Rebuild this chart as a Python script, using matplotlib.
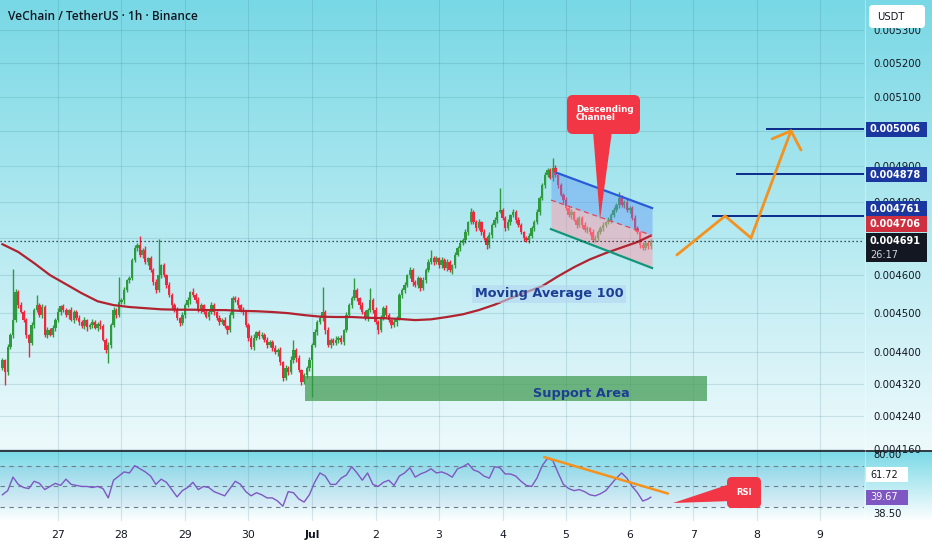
import numpy as np
import matplotlib
matplotlib.use("Agg")
import matplotlib.pyplot as plt
from matplotlib.patches import FancyBboxPatch, Polygon, Rectangle
from matplotlib.ticker import NullLocator

# ---- data (prices in micro-USDT, 1h candles starting Jun 26 03:00) ----
open0 = 4360
closes = [
    4379, 4349, 4413, 4444, 4482, 4555, 4521, 4503, 4482, 4444,
    4423, 4469, 4508, 4521, 4495, 4516, 4444, 4456, 4444, 4461,
    4482, 4503, 4518, 4508, 4495, 4508, 4482, 4503, 4487, 4477,
    4466, 4482, 4464, 4469, 4477, 4461, 4472, 4466, 4431, 4405,
    4418, 4469, 4508, 4495, 4529, 4534, 4560, 4587, 4592, 4640,
    4672, 4680, 4654, 4667, 4635, 4645, 4613, 4581, 4560, 4600,
    4626, 4600, 4573, 4547, 4521, 4508, 4487, 4474, 4495, 4521,
    4534, 4555, 4547, 4534, 4508, 4521, 4503, 4490, 4503, 4521,
    4503, 4487, 4477, 4482, 4466, 4456, 4495, 4539, 4534, 4521,
    4508, 4503, 4469, 4436, 4413, 4436, 4451, 4441, 4444, 4431,
    4418, 4426, 4410, 4400, 4405, 4374, 4334, 4359, 4349, 4379,
    4405, 4384, 4354, 4324, 4341, 4359, 4379, 4418, 4451, 4477,
    4487, 4503, 4456, 4418, 4431, 4423, 4431, 4436, 4426, 4456,
    4495, 4521, 4539, 4560, 4539, 4521, 4503, 4487, 4508, 4534,
    4508, 4477, 4456, 4487, 4513, 4495, 4482, 4469, 4477, 4487,
    4547, 4560, 4573, 4600, 4613, 4581, 4573, 4592, 4565, 4587,
    4613, 4635, 4645, 4635, 4645, 4626, 4640, 4618, 4635, 4613,
    4626, 4654, 4672, 4686, 4694, 4716, 4743, 4771, 4743, 4727,
    4743, 4716, 4699, 4680, 4707, 4735, 4749, 4771, 4776, 4754,
    4727, 4743, 4762, 4771, 4749, 4735, 4716, 4699, 4694, 4705,
    4727, 4743, 4771, 4810, 4846, 4874, 4888, 4866, 4894, 4874,
    4846, 4818, 4804, 4782, 4762, 4771, 4749, 4735, 4754, 4735,
    4721, 4727, 4716, 4694, 4699, 4716, 4727, 4735, 4743, 4749,
    4762, 4776, 4790, 4810, 4790, 4799, 4776, 4782, 4754, 4727,
    4716, 4680, 4672, 4686, 4678, 4691,
]
wick_up = [
    6, 4, 8, 5, 134, 9, 5, 7, 4, 6,
    3, 8, 6, 26, 5, 9, 4, 7, 5, 8,
    6, 10, 4, 7, 5, 3, 8, 6, 4, 9,
    5, 7, 3, 6, 8, 4, 5, 9, 6, 4,
    7, 5, 8, 6, 66, 5, 9, 4, 7, 6,
    8, 5, 25, 6, 10, 4, 7, 5, 9, 97,
    5, 7, 4, 8, 6, 5, 9, 3, 7, 6,
    8, 4, 10, 5, 7, 6, 4, 9, 5, 8,
    6, 3, 7, 5, 9, 4, 8, 6, 5, 7,
    4, 8, 6, 5, 7, 9, 3, 6, 8, 5,
    7, 4, 6, 9, 5, 8, 4, 7, 6, 10,
    26, 5, 8, 4, 7, 6, 9, 5, 8, 6,
    7, 65, 5, 8, 4, 6, 9, 5, 7, 4,
    8, 6, 5, 32, 7, 4, 9, 6, 5, 31,
    6, 8, 4, 7, 5, 9, 6, 4, 8, 5,
    7, 6, 9, 4, 8, 5, 7, 6, 4, 9,
    5, 8, 22, 6, 7, 4, 9, 5, 8, 6,
    4, 7, 5, 9, 6, 8, 4, 11, 6, 5,
    8, 4, 7, 6, 9, 5, 7, 4, 62, 6,
    5, 9, 4, 7, 6, 8, 5, 4, 7, 9,
    6, 5, 8, 4, 7, 9, 6, 5, 29, 8,
    4, 7, 6, 9, 5, 8, 4, 7, 6, 5,
    8, 6, 4, 7, 9, 5, 6, 8, 4, 7,
    5, 9, 6, 17, 7, 4, 8, 6, 5, 9,
    6, 4, 8, 5, 7, 6,
]
wick_lo = [
    5, 33, 6, 4, 8, 5, 7, 3, 6, 9,
    36, 5, 7, 4, 6, 8, 5, 9, 4, 6,
    7, 4, 8, 5, 6, 9, 3, 7, 5, 8,
    4, 6, 9, 5, 7, 3, 8, 6, 4, 7,
    33, 8, 5, 7, 4, 6, 9, 5, 8, 6,
    4, 7, 6, 9, 5, 8, 4, 7, 6, 5,
    8, 5, 7, 4, 9, 6, 5, 8, 4, 7,
    6, 9, 4, 7, 5, 8, 6, 3, 9, 5,
    7, 4, 8, 6, 5, 9, 4, 7, 6, 8,
    5, 7, 4, 9, 6, 8, 5, 7, 4, 6,
    8, 5, 7, 4, 9, 6, 8, 5, 7, 4,
    6, 9, 5, 8, 4, 7, 6, 92, 5, 8,
    4, 7, 9, 5, 8, 6, 4, 7, 5, 9,
    6, 5, 8, 4, 7, 9, 5, 6, 8, 4,
    7, 5, 9, 6, 4, 8, 5, 7, 6, 9,
    4, 8, 6, 5, 7, 9, 4, 6, 8, 5,
    7, 4, 6, 9, 5, 8, 6, 4, 7, 5,
    9, 6, 4, 8, 5, 7, 9, 4, 6, 8,
    5, 7, 4, 9, 6, 8, 5, 7, 4, 6,
    8, 5, 7, 4, 9, 6, 5, 8, 4, 7,
    6, 9, 4, 7, 5, 8, 6, 4, 9, 5,
    7, 4, 8, 6, 5, 9, 4, 7, 6, 8,
    5, 7, 9, 4, 6, 8, 5, 7, 4, 6,
    8, 6, 4, 7, 5, 9, 6, 8, 5, 7,
    4, 8, 6, 5, 9, 7,
]

# moving average 100 (read every 6 candles, plus the last one)
ma_idx = list(range(0, 241, 6)) + [245]
ma_vals = [4683, 4662, 4632, 4600, 4576, 4552, 4531, 4521, 4516, 4513,
           4510, 4509, 4509, 4508, 4508, 4506, 4505, 4503, 4500, 4495,
           4491, 4490, 4490, 4488, 4487, 4485, 4482, 4484, 4490, 4497,
           4508, 4522, 4539, 4555, 4571, 4597, 4621, 4642, 4659, 4674,
           4689, 4706]

# RSI, read every 2 candles, plus the last candle
rsi_vals = [
    42, 46, 59, 52, 49, 48, 55, 53, 47, 50, 53, 51, 57, 52, 51, 50, 50, 49,
    50, 48, 39, 56, 60, 64, 63, 70, 67, 64, 60, 52, 57, 54, 47, 40, 46, 49,
    54, 47, 50, 49, 45, 43, 41, 48, 55, 52, 45, 41, 44, 42, 39, 39, 36, 31,
    45, 44, 38, 35, 42, 54, 63, 60, 52, 52, 58, 61, 69, 63, 56, 63, 52, 50,
    54, 56, 51, 60, 63, 68, 59, 62, 64, 67, 63, 64, 62, 59, 67, 69, 72, 66,
    64, 60, 58, 69, 68, 62, 62, 60, 55, 51, 50, 58, 70, 77, 75, 63, 52, 48,
    46, 47, 45, 42, 41, 43, 46, 52, 58, 63, 58, 50, 44, 36, 38, 39.67,
]

day_labels = ['27', '28', '29', '30', 'Jul', '2', '3', '4', '5', '6', '7', '8', '9']
price_ticks = [0.00416, 0.00424, 0.00432, 0.0044, 0.0045, 0.0046, 0.0047,
               0.0048, 0.0049, 0.0050, 0.0051, 0.0052, 0.0053]

# drawings (candle index, micro-USDT)
channel_x = [207.3, 245.5]
channel_top = [4886, 4782]
channel_mid = [4804, 4707]
channel_bot = [4724, 4619]
targets = [(5006, 289.0), (4878, 277.6), (4761, 268.6)]
path_x = [254.9, 273.1, 282.9, 298.0]
path_p = [4654, 4760, 4700, 5000]
head_x = [290.9, 298.0, 301.8]
head_p = [4977, 5000, 4945]
support = (114.4, 266.3, 4277, 4339)
rsi_trend_x = [204.7, 251.5]
rsi_trend_y = [78.3, 43.2]
last_price = 4691

# ---- figure ----
W, H = 932, 550
fig = plt.figure(figsize=(W / 100, H / 100), dpi=100)


def fx(px):
    return px / W


def fy(py):
    return 1 - py / H


GREEN = '#2f9a3e'
RED = '#f0283d'
DARK = '#131722'
NAVY = '#19379f'
GRID = '#2a6f7a'
GRID_A = 0.16

# background gradient
ax_bg = fig.add_axes([0, 0, 1, 1], zorder=0)
img = np.ones((H, 1, 3))
c1 = np.array([120, 216, 229]) / 255
c2 = np.array([238, 250, 252]) / 255
t = np.linspace(0, 1, 452)[:, None]
img[:452, 0, :] = c1 + (c2 - c1) * t
r1 = np.array([124, 218, 231]) / 255
r2 = np.array([255, 255, 255]) / 255
t2 = np.linspace(0, 1, 70)[:, None]
img[452:522, 0, :] = r1 + (r2 - r1) * t2
ax_bg.imshow(img, extent=[0, W, H, 0], aspect='auto', interpolation='bilinear')
ax_bg.set_xlim(0, W)
ax_bg.set_ylim(H, 0)
ax_bg.axis('off')

xmin, xmax = -0.907, 325.6
day_idx = [21 + 24 * k for k in range(len(day_labels))]

# price pane
ax = fig.add_axes([0, fy(451), fx(864), 451 / H], zorder=2)
ax.set_facecolor('none')
ax.set_yscale('log')
ax.set_ylim(0.0041554, 0.0053929)
ax.set_xlim(xmin, xmax)
for s in ax.spines.values():
    s.set_visible(False)
ax.set_xticks(day_idx)
ax.tick_params(axis='x', length=0, labelbottom=False)
ax.yaxis.tick_right()
ax.set_yticks(price_ticks)
ax.yaxis.set_minor_locator(NullLocator())
ax.set_yticklabels(['%.6f' % p for p in price_ticks])
ax.tick_params(axis='y', length=0, pad=6.5, labelsize=7.3, labelcolor=DARK)
ax.grid(True, color=GRID, alpha=GRID_A, lw=0.8)

c = np.array(closes, dtype=float)
o = np.r_[open0, c[:-1]]
hi = np.maximum(o, c) + np.array(wick_up)
lo = np.minimum(o, c) - np.array(wick_lo)
idx = np.arange(len(c))
cols = np.where(c >= o, GREEN, RED)
ax.vlines(idx, lo * 1e-6, hi * 1e-6, colors=cols, lw=1.0, zorder=3)
body = np.maximum(np.abs(c - o), 2.0)
ax.bar(idx, body * 1e-6, bottom=np.minimum(o, c) * 1e-6, width=0.9,
       color=cols, zorder=3, linewidth=0)

# support area
ax.fill_between([support[0], support[1]], support[2] * 1e-6, support[3] * 1e-6,
                color='#3f9a4f', alpha=0.72, lw=0, zorder=2)

# moving average
ax.plot(ma_idx, np.array(ma_vals) * 1e-6, color='#b0232f', lw=1.6, zorder=5)

# descending channel
cx = np.array(channel_x)
ax.fill_between(cx, np.array(channel_mid) * 1e-6, np.array(channel_top) * 1e-6,
                color='#5e95f5', alpha=0.42, lw=0, zorder=4)
ax.fill_between(cx, np.array(channel_bot) * 1e-6, np.array(channel_mid) * 1e-6,
                color='#ff9aab', alpha=0.5, lw=0, zorder=4)
ax.plot([209.6, cx[1]], [4880e-6, channel_top[1] * 1e-6], color='#2a5bd7', lw=1.6, zorder=6)
ax.plot(cx, np.array(channel_bot) * 1e-6, color='#12977a', lw=1.6, zorder=6)
ax.plot(cx, np.array(channel_mid) * 1e-6, color='#e0475a', lw=0.9, dashes=(4, 3), zorder=6)

# target lines and projected path
for p, x0 in targets:
    ax.plot([x0, xmax], [p * 1e-6, p * 1e-6], color='#0b2b8c', lw=1.4, zorder=6)
ax.axhline(last_price * 1e-6, color=DARK, lw=0.9, ls=(0, (1, 2.2)), zorder=6)
ax.plot(path_x, np.array(path_p) * 1e-6, color='#f5921e', lw=2.0, zorder=7,
        solid_capstyle='round', solid_joinstyle='miter')
ax.plot(head_x, np.array(head_p) * 1e-6, color='#f5921e', lw=2.0, zorder=7,
        solid_capstyle='round')

# RSI pane
ax_r = fig.add_axes([0, fy(521), fx(864), 70 / H], zorder=2)
ax_r.set_facecolor('none')
ax_r.set_xlim(xmin, xmax)
ax_r.set_ylim(16.8, 84.1)
for s in ax_r.spines.values():
    s.set_visible(False)
ax_r.set_yticks([])
ax_r.set_xticks(day_idx)
ax_r.set_xticklabels(day_labels)
ax_r.tick_params(axis='x', length=0, pad=6.5, labelsize=7.8, labelcolor=DARK)
ax_r.get_xticklabels()[4].set_fontweight('bold')
ax_r.grid(True, axis='x', color=GRID, alpha=GRID_A, lw=0.8)
ax_r.axhspan(30, 70, color='#7e57c2', alpha=0.05, lw=0)
for lvl in (70, 50, 30):
    ax_r.axhline(lvl, color='#6f7f8e', lw=0.8, dashes=(4, 4))
rsi_idx = list(range(0, len(closes), 2)) + [len(closes) - 1]
ax_r.plot(rsi_idx, rsi_vals, color='#7e57c2', lw=1.0)
ax_r.plot(rsi_trend_x, rsi_trend_y, color='#f5921e', lw=1.8, solid_capstyle='round')

# overlay: labels and callouts in pixel coordinates
ax_t = fig.add_axes([0, 0, 1, 1], zorder=5)
ax_t.set_facecolor('none')
ax_t.set_xlim(0, W)
ax_t.set_ylim(H, 0)
ax_t.axis('off')

ax_t.plot([0, W], [451, 451], color='#1e2a33', lw=1.3)
ax_t.plot([865, 865], [0, 521], color='white', alpha=0.35, lw=0.8)
ax_t.text(8, 16, 'VeChain / TetherUS · 1h · Binance', fontsize=8.6,
          family=['Open Sans', 'DejaVu Sans'], fontweight='semibold',
          color=DARK, va='center', ha='left')

ax_t.add_patch(FancyBboxPatch((869, 5), 56, 23, boxstyle='round,pad=0,rounding_size=4',
                              fc='white', ec='none'))
ax_t.text(877, 17, 'USDT', fontsize=7.2, color=DARK, va='center', ha='left')


def label_box(y0, y1, txt, fc, tc='white', x1=927, bold=True):
    ax_t.add_patch(Rectangle((866, y0), x1 - 866, y1 - y0, fc=fc, ec='none'))
    ax_t.text(870, (y0 + y1) / 2, txt, fontsize=7, color=tc, va='center', ha='left',
              fontweight='bold' if bold else 'normal')


label_box(122, 137, '0.005006', NAVY)
label_box(167, 182, '0.004878', NAVY)
label_box(201, 216, '0.004761', NAVY)
label_box(216, 232, '0.004706', '#cf3040')
ax_t.add_patch(Rectangle((866, 233), 61, 29, fc=DARK, ec='none'))
ax_t.text(870, 241.5, '0.004691', fontsize=7, color='white', va='center', fontweight='bold')
ax_t.text(870, 255, '26:17', fontsize=7, color='#d1d4dc', va='center')

ax_t.text(873, 455, '80.00', fontsize=7.2, color=DARK, va='center')
label_box(467, 482, '61.72', 'white', tc=DARK, x1=908, bold=False)
label_box(490, 505, '39.67', '#7e57c2', x1=908, bold=False)
ax_t.text(873, 514, '38.50', fontsize=7.2, color=DARK, va='center')

# descending channel callout
ax_t.add_patch(Polygon([(593, 131), (612, 131), (600, 220)], closed=True,
                       fc='#f23645', ec='none'))
ax_t.add_patch(FancyBboxPatch((567, 95), 73, 39, boxstyle='round,pad=0,rounding_size=6',
                              fc='#f23645', ec='none'))
ax_t.text(576, 113.5, 'Descending\nChannel', fontsize=6.3, color='white',
          fontweight='bold', va='center', ha='left', linespacing=1.0)

# RSI callout
ax_t.add_patch(Polygon([(673, 503), (730, 484), (732, 501)], closed=True,
                       fc='#f23645', ec='none'))
ax_t.add_patch(FancyBboxPatch((727, 477), 34, 31, boxstyle='round,pad=0,rounding_size=5',
                              fc='#f23645', ec='none'))
ax_t.text(744, 492.5, 'RSI', fontsize=6, color='white', fontweight='bold',
          va='center', ha='center')

ax_t.text(549, 294, 'Moving Average 100', fontsize=9.3, fontweight='bold',
          color='#1c3f94', va='center', ha='center',
          bbox=dict(boxstyle='square,pad=0.2', fc='#b3d6f2', ec='none', alpha=0.6))
ax_t.text(581, 394, 'Support Area', fontsize=9.3, fontweight='bold',
          color='#1c3f94', va='center', ha='center')

fig.savefig('out.png', dpi=100)
